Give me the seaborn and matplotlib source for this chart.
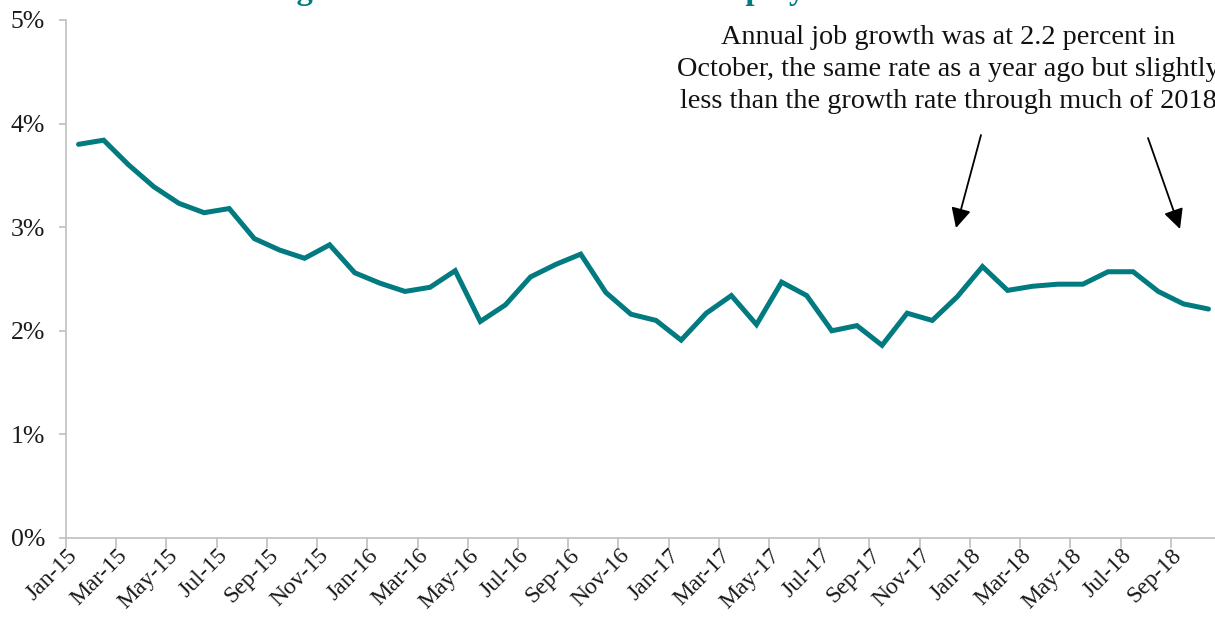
import matplotlib
matplotlib.use("Agg")
import matplotlib.pyplot as plt
import matplotlib.transforms as mtransforms
import seaborn as sns
import pandas as pd
import numpy as np

months = ["Jan-15","Feb-15","Mar-15","Apr-15","May-15","Jun-15","Jul-15","Aug-15","Sep-15","Oct-15","Nov-15","Dec-15",
          "Jan-16","Feb-16","Mar-16","Apr-16","May-16","Jun-16","Jul-16","Aug-16","Sep-16","Oct-16","Nov-16","Dec-16",
          "Jan-17","Feb-17","Mar-17","Apr-17","May-17","Jun-17","Jul-17","Aug-17","Sep-17","Oct-17","Nov-17","Dec-17",
          "Jan-18","Feb-18","Mar-18","Apr-18","May-18","Jun-18","Jul-18","Aug-18","Sep-18","Oct-18"]
growth = [3.80, 3.84, 3.60, 3.39, 3.23, 3.14, 3.18, 2.89, 2.78, 2.70, 2.83, 2.56,
          2.46, 2.38, 2.42, 2.58, 2.09, 2.25, 2.52, 2.64, 2.74, 2.37, 2.16, 2.10,
          1.91, 2.17, 2.34, 2.06, 2.47, 2.34, 2.00, 2.05, 1.86, 2.17, 2.10, 2.33,
          2.62, 2.39, 2.43, 2.45, 2.45, 2.57, 2.57, 2.38, 2.26, 2.21]
y_ticks = [0, 1, 2, 3, 4, 5]
y_tick_labels = ["0%", "1%", "2%", "3%", "4%", "5%"]
title = "Annual growth rate of total nonfarm employment"
note = ("Annual job growth was at 2.2 percent in\n"
        "October, the same rate as a year ago but slightly\n"
        "less than the growth rate through much of 2018")

sns.set_theme(style="white")
plt.rcParams['font.family'] = ['Liberation Serif', 'DejaVu Serif']

W, H = 1215, 625
fig = plt.figure(figsize=(W / 100, H / 100), dpi=100)
ax = fig.add_axes([66 / W, (H - 538) / H, 1155 / W, 518 / H])

df = pd.DataFrame({"pos": np.arange(len(months)), "growth": growth})
teal = "#017A80"
sns.lineplot(data=df, x="pos", y="growth", ax=ax, color=teal, linewidth=3.6,
             solid_joinstyle="miter")

ax.set_xlim(-0.5, len(months) - 0.5)
ax.set_ylim(0, 5)
ax.set_xlabel("")
ax.set_ylabel("")

grey = "#BFBFBF"
for s in ["top", "right"]:
    ax.spines[s].set_visible(False)
for s in ["left", "bottom"]:
    ax.spines[s].set_color(grey)
    ax.spines[s].set_linewidth(1.2)

ax.set_yticks(y_ticks)
ax.set_yticklabels(y_tick_labels)
ax.tick_params(axis="y", which="major", direction="out", length=5, width=1.2,
               color=grey, labelsize=18.5, labelcolor="#1a1a1a", pad=10, left=True)

label_pos = np.arange(0, len(months), 2)
ax.set_xticks(label_pos)
ax.set_xticklabels([months[i] for i in label_pos], rotation=45, ha="right",
                   rotation_mode="anchor")
ax.set_xticks(np.arange(-0.5, len(months), 2), minor=True)
ax.tick_params(axis="x", which="major", length=0, labelsize=17,
               labelcolor="#1a1a1a", pad=5)
ax.tick_params(axis="x", which="minor", direction="out", length=7, width=1.2,
               color=grey, bottom=True)
shift = mtransforms.ScaledTranslation(-12 / 100, 0, fig.dpi_scale_trans)
for lab in ax.get_xticklabels():
    lab.set_transform(lab.get_transform() + shift)

fig.text(530 / W, 1.0 + 1 / H, title, ha="center", va="baseline", fontsize=23.5,
         fontweight="bold", color=teal)

fig.text(948 / W, 1 - 25 / H, note, ha="center", va="top", fontsize=20.3,
         color="#111111", linespacing=1.36, multialignment="center")

arrows = [((981, 135), (956, 228)), ((1148, 138), (1180, 229))]
for (x0, y0), (x1, y1) in arrows:
    ax.annotate("", xy=(x1, H - y1), xycoords="figure pixels",
                xytext=(x0, H - y0), textcoords="figure pixels",
                arrowprops=dict(arrowstyle="-|>,head_length=1.0,head_width=0.5",
                                color="black", lw=1.3, shrinkA=0, shrinkB=0))

fig.savefig("out.png", dpi=100)
